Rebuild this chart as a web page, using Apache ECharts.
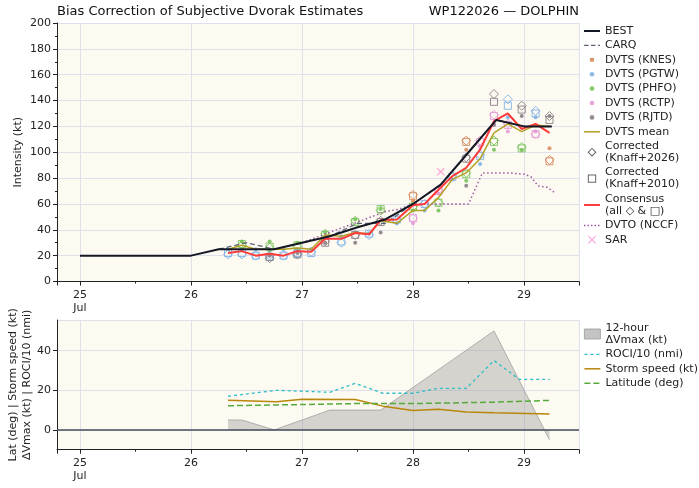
<!DOCTYPE html>
<html>
<head>
<meta charset="utf-8">
<script src="https://cdn.jsdelivr.net/npm/echarts@6/dist/echarts.min.js"></script>
<style>
  html, body { margin: 0; padding: 0; background: #fff; }
  #chart { width: 699px; height: 488px; }
</style>
</head>
<body>
<div id="chart"></div>
<script>
// all times are hours after 25 Jul 00 UTC
const bestHours = [0, 6, 12, 18, 24, 30, 36, 42, 48, 54, 60, 66, 72, 78, 84, 90, 96, 102];
const bestKt    = [20, 20, 20, 20, 20, 25, 25, 25, 30, 35, 42, 48, 60, 75, 100, 125, 120, 120];
const carqHours = [30, 36, 42, 48, 54, 60, 66, 72, 78, 84, 90, 96, 102];
const carqKt    = [25, 30, 25, 30, 35, 45, 45, 60, 75, 100, 125, 120, 120];

// DVTS fixes: raw, corrected (Knaff+2026), corrected (Knaff+2010)
const knesHours = [72, 83.5, 101.5];
const knesRaw   = [62, 102, 103];
const knesK26   = [67, 109, 94];
const knesK10   = [66, 108, 93];

const pgtwHours = [32, 35, 38, 41, 44, 47, 50, 56.5, 62.5, 68.5, 74.5, 80.5, 86.5, 92.5, 98.5];
const pgtwRaw   = [25, 25, 25, 24, 25, 25, 25, 35, 37, 45, 55, 79, 91, 127, 127];
const pgtwK26   = [21, 21, 20, 20, 20, 21, 23, 30, 36, 47, 60, 82, 98, 141, 132];
const pgtwK10   = [22, 22, 20, 19, 20, 22, 22, 31, 37, 48, 60, 81, 97, 136, 130];

const phfoHours = [35, 41, 47, 53, 59.5, 65, 72, 77.5, 83.5, 89.5, 95.5];
const phfoRaw   = [31, 31, 30, 38, 48, 56, 55, 55, 78, 102, 102];
const phfoK26   = [28, 26, 27, 37, 47, 55, 58, 61, 84, 109, 104];
const phfoK10   = [29, 27, 28, 36, 46, 56, 58, 61, 83, 108, 103];

const rctpHours = [72, 77.5, 86.5, 89.5, 92.5, 98.5];
const rctpRaw   = [45, 68, 104, 122, 116, 116];
const rctpK26   = [49, 71, 109, 129, 122, 114];
const rctpK10   = [49, 70, 108, 128, 121, 114];

const rjtdHours = [41, 47, 53, 59.5, 65, 83.5, 89.5, 95.5, 101.5];
const rjtdRaw   = [20, 22, 30, 30, 38, 74, 121, 128, 128];
const rjtdK26   = [18, 21, 31, 36, 47, 96, 145, 136, 128];
const rjtdK10   = [19, 21, 30, 36, 46, 95, 139, 133, 125];

const consHours = [32, 35, 38, 41, 44, 47, 50, 53, 56.5, 59.5, 62.5, 65, 68.5, 72, 74.5, 77.5, 80.5, 83.5, 86.5, 89.5, 92.5, 95.5, 98.5, 101.5];
const meanKt    = [25, 28, 25, 25, 25, 26, 25, 36, 35, 38, 37, 47, 45, 55, 55, 65, 79, 84, 95, 115, 122, 116, 121, 120];
const consKt    = [22, 23.5, 20, 21.5, 20, 23.5, 23, 33, 33, 37.5, 36.5, 47.5, 48, 59, 60, 71, 81.5, 88, 102, 124, 130, 118, 122, 115];

const dvtoHours = [48, 54, 60, 66, 69, 72, 78, 84, 87, 90, 93, 96, 97.5, 99, 101, 102.5];
const dvtoKt    = [30, 38, 46, 54, 56, 60, 60, 60, 84, 84, 84, 83, 81, 74, 73, 69];

const sarHours = [78];
const sarKt    = [85];

// lower panel
const dvHours   = [32, 35, 42, 54, 65, 89.5, 101.5];
const dvKt      = [5, 5, 0, 10, 10, 50, -5];
const rociHours = [32, 42.5, 54, 59.5, 65.5, 72, 77.5, 83.5, 89.5, 95, 101.5];
const roci10    = [17, 20, 19, 23.5, 18.5, 18.5, 21, 21, 35, 25.5, 25.5];
const spdHours  = [32, 42.5, 48, 59.5, 65.5, 72, 77.5, 83.5, 89.5, 101.5];
const spdKt     = [15, 14.2, 15.5, 15.4, 12, 9.8, 10.4, 9, 8.6, 8];
const latHours  = [32, 48, 59.5, 72, 89.5, 101.5];
const latDeg    = [12.2, 12.8, 13.3, 13.3, 14, 14.9];

const C_KNES = '#d68b5e', C_PGTW = '#7fb2e6', C_PHFO = '#79c35a', C_RCTP = '#e59ad8', C_RJTD = '#8a7f86';
const FONT = 'DejaVu Sans';

function day(h) { return 25 + h / 24; }
function pts(hours, vals) { return hours.map((h, i) => [day(h), vals[i]]); }

const agencies = [
  {c: C_KNES, h: knesHours, k26: knesK26, k10: knesK10},
  {c: C_PGTW, h: pgtwHours, k26: pgtwK26, k10: pgtwK10},
  {c: C_PHFO, h: phfoHours, k26: phfoK26, k10: phfoK10},
  {c: C_RCTP, h: rctpHours, k26: rctpK26, k10: rctpK10},
  {c: C_RJTD, h: rjtdHours, k26: rjtdK26, k10: rjtdK10}
];
function corrected(key) {
  const out = [];
  agencies.forEach(a => a.h.forEach((h, i) => {
    out.push({value: [day(h), a[key][i]], itemStyle: {borderColor: a.c}});
  }));
  return out;
}

// legend icons, all drawn in a 16x10 box
const BOX = 'path://M0,0M16,10';
function bar(x0, x1, w) { const a = 5 - w / 2, b = 5 + w / 2; return 'M' + x0 + ',' + a + 'L' + x1 + ',' + a + 'L' + x1 + ',' + b + 'L' + x0 + ',' + b + 'Z'; }
const lineIcon2  = BOX + bar(0, 16, 2);
const lineIcon15 = BOX + bar(0, 16, 1.5);
const carqIcon   = BOX + bar(0, 4.5, 1.3) + bar(7, 11.5, 1.3) + bar(14, 16, 1.3);
const dotLineIcon = BOX + bar(0, 1.5, 1.5) + bar(3.5, 5, 1.5) + bar(7, 8.5, 1.5) + bar(10.5, 12, 1.5) + bar(14, 15.5, 1.5);
const rociIcon   = BOX + bar(0, 3, 1.3) + bar(6, 9, 1.3) + bar(12, 15, 1.3);
const latIcon    = BOX + bar(0, 6, 1.5) + bar(9, 15, 1.5);
const dotIcon = BOX + 'M10.3,5A2.3,2.3,0,1,1,5.7,5A2.3,2.3,0,1,1,10.3,5Z';
const diamondIcon = BOX + 'M8,0.5L12.5,5L8,9.5L3.5,5ZM8,1.9L4.9,5L8,8.1L11.1,5Z';
const squareIcon = BOX + 'M3.8,0.8L12.2,0.8L12.2,9.2L3.8,9.2ZM4.8,1.8L4.8,8.2L11.2,8.2L11.2,1.8Z';
const xIcon = BOX + 'M4,1.8L4.8,1L8,4.2L11.2,1L12,1.8L8.8,5L12,8.2L11.2,9L8,5.8L4.8,9L4,8.2L7.2,5Z';
const xSymbol = 'path://M0,1L1,0L5,4L9,0L10,1L6,5L10,9L9,10L5,6L1,10L0,9L4,5Z';

function dvts(name, color, hours, vals) {
  return {
    name: name, type: 'scatter', xAxisIndex: 0, yAxisIndex: 0,
    symbolSize: 4, itemStyle: {color: color, opacity: 0.9},
    data: pts(hours, vals), z: 3
  };
}

const xAxisBase = {
  type: 'value', min: 24.793, max: 29.495, splitNumber: 5,
  axisLine: {onZero: false, lineStyle: {color: '#222', width: 1}},
  axisTick: {length: 4, lineStyle: {color: '#222'}},
  minorTick: {show: true, splitNumber: 2, length: 2, lineStyle: {color: '#222'}},
  splitLine: {lineStyle: {color: '#e0e0ec', width: 1}},
  axisLabel: {
    showMinLabel: false, showMaxLabel: false, margin: 7,
    fontFamily: FONT, fontSize: 11, color: '#222', lineHeight: 13,
    formatter: v => (Math.abs(v - 25) < 1e-6 ? '25\nJul' : String(Math.round(v)))
  }
};
const legendText = {fontFamily: FONT, fontSize: 11, color: '#222', lineHeight: 12};

const chart = echarts.init(document.getElementById('chart'));
chart.setOption({
  animation: false,
  backgroundColor: '#fff',
  textStyle: {fontFamily: FONT},
  title: [
    {text: 'Bias Correction of Subjective Dvorak Estimates', left: 57, top: 5, padding: 0,
     textStyle: {fontFamily: FONT, fontSize: 13, fontWeight: 'normal', color: '#111'}},
    {text: 'WP122026 — DOLPHIN', right: 120, top: 5, padding: 0,
     textStyle: {fontFamily: FONT, fontSize: 13, fontWeight: 'normal', color: '#111'}}
  ],
  legend: [
    {
      orient: 'vertical', left: 584, top: 25, padding: 0, itemGap: 2.4,
      itemWidth: 16, itemHeight: 10, textStyle: legendText,
      data: [
        {name: 'BEST', icon: lineIcon2},
        {name: 'CARQ', icon: carqIcon},
        {name: 'DVTS (KNES)', icon: dotIcon},
        {name: 'DVTS (PGTW)', icon: dotIcon},
        {name: 'DVTS (PHFO)', icon: dotIcon},
        {name: 'DVTS (RCTP)', icon: dotIcon},
        {name: 'DVTS (RJTD)', icon: dotIcon},
        {name: 'DVTS mean', icon: lineIcon15},
        {name: 'Corrected\n(Knaff+2026)', icon: diamondIcon, itemStyle: {color: '#555', borderWidth: 0}},
        {name: 'Corrected\n(Knaff+2010)', icon: squareIcon, itemStyle: {color: '#555', borderWidth: 0}},
        {name: 'Consensus\n(all ◇ & □)', icon: lineIcon2},
        {name: 'DVTO (NCCF)', icon: dotLineIcon},
        {name: 'SAR', icon: xIcon}
      ]
    },
    {
      orient: 'vertical', left: 584, top: 322, padding: 0, itemGap: 2.4,
      itemWidth: 16, itemHeight: 10, textStyle: legendText,
      data: [
        {name: '12-hour\nΔVmax (kt)', icon: 'rect', itemStyle: {color: '#c4c4c4', borderColor: '#999', borderWidth: 0.8}},
        {name: 'ROCI/10 (nmi)', icon: rociIcon},
        {name: 'Storm speed (kt)', icon: lineIcon15},
        {name: 'Latitude (deg)', icon: latIcon}
      ]
    }
  ],
  grid: [
    {left: 57, top: 23, width: 522, height: 258.5, show: true, backgroundColor: '#fdfaf2', borderWidth: 0, outerBoundsMode: 'none'},
    {left: 57, top: 320, width: 522, height: 129.7, show: true, backgroundColor: '#fdfaf2', borderWidth: 0, outerBoundsMode: 'none'}
  ],
  xAxis: [
    Object.assign({gridIndex: 0}, xAxisBase),
    Object.assign({gridIndex: 1}, xAxisBase)
  ],
  yAxis: [
    {
      gridIndex: 0, type: 'value', min: 0, max: 200, interval: 20,
      name: 'Intensity (kt)', nameLocation: 'middle', nameGap: 33, nameMoveOverlap: false,
      nameTextStyle: {fontFamily: FONT, fontSize: 11, color: '#222'},
      axisLine: {show: true, lineStyle: {color: '#222'}},
      axisTick: {show: true, length: 4, lineStyle: {color: '#222'}},
      minorTick: {show: true, splitNumber: 2, length: 2, lineStyle: {color: '#222'}},
      splitLine: {lineStyle: {color: '#e0e0ec', width: 1}},
      axisLabel: {fontFamily: FONT, fontSize: 11, color: '#222', margin: 6}
    },
    {
      gridIndex: 1, type: 'value', min: -10, max: 55.5, splitNumber: 3,
      name: 'Lat (deg) | Storm speed (kt)\nΔVmax (kt) | ROCI/10 (nmi)',
      nameLocation: 'middle', nameGap: 23, nameMoveOverlap: false,
      nameTextStyle: {fontFamily: FONT, fontSize: 11, color: '#222', lineHeight: 14},
      axisLine: {show: true, lineStyle: {color: '#222'}},
      axisTick: {show: true, length: 4, lineStyle: {color: '#222'}},
      splitLine: {lineStyle: {color: '#e0e0ec', width: 1}},
      axisLabel: {fontFamily: FONT, fontSize: 11, color: '#222', margin: 6,
                  showMinLabel: false, showMaxLabel: false}
    }
  ],
  series: [
    {name: 'BEST', type: 'line', xAxisIndex: 0, yAxisIndex: 0, symbol: 'none', z: 6,
     lineStyle: {color: '#141824', width: 2}, itemStyle: {color: '#141824'}, data: pts(bestHours, bestKt)},
    {name: 'CARQ', type: 'line', xAxisIndex: 0, yAxisIndex: 0, symbol: 'none', z: 4,
     lineStyle: {color: '#5c6577', width: 1.3, type: [5, 3]}, itemStyle: {color: '#5c6577'}, data: pts(carqHours, carqKt)},
    dvts('DVTS (KNES)', C_KNES, knesHours, knesRaw),
    dvts('DVTS (PGTW)', C_PGTW, pgtwHours, pgtwRaw),
    dvts('DVTS (PHFO)', C_PHFO, phfoHours, phfoRaw),
    dvts('DVTS (RCTP)', C_RCTP, rctpHours, rctpRaw),
    dvts('DVTS (RJTD)', C_RJTD, rjtdHours, rjtdRaw),
    {name: 'DVTS mean', type: 'line', xAxisIndex: 0, yAxisIndex: 0, symbol: 'none', z: 4,
     lineStyle: {color: '#b3a126', width: 1.5}, itemStyle: {color: '#b3a126'}, data: pts(consHours, meanKt)},
    {name: 'Corrected\n(Knaff+2026)', type: 'scatter', xAxisIndex: 0, yAxisIndex: 0, symbol: 'diamond',
     symbolSize: 9, z: 3, itemStyle: {color: 'rgba(0,0,0,0)', borderWidth: 1, opacity: 0.9},
     data: corrected('k26')},
    {name: 'Corrected\n(Knaff+2010)', type: 'scatter', xAxisIndex: 0, yAxisIndex: 0, symbol: 'rect',
     symbolSize: 7, z: 3, itemStyle: {color: 'rgba(0,0,0,0)', borderWidth: 1, opacity: 0.9},
     data: corrected('k10')},
    {name: 'Consensus\n(all ◇ & □)', type: 'line', xAxisIndex: 0, yAxisIndex: 0, symbol: 'none', z: 5,
     lineStyle: {color: '#ff3a3a', width: 2}, itemStyle: {color: '#ff3a3a'}, data: pts(consHours, consKt)},
    {name: 'DVTO (NCCF)', type: 'line', xAxisIndex: 0, yAxisIndex: 0, symbol: 'none', z: 4,
     lineStyle: {color: '#9a5a9c', width: 1.5, type: [1.5, 2.5]}, itemStyle: {color: '#9a5a9c'}, data: pts(dvtoHours, dvtoKt)},
    {name: 'SAR', type: 'scatter', xAxisIndex: 0, yAxisIndex: 0, symbol: xSymbol, symbolSize: 8, z: 4,
     itemStyle: {color: '#ff8ccb'}, data: pts(sarHours, sarKt)},

    {name: '12-hour\nΔVmax (kt)', type: 'line', xAxisIndex: 1, yAxisIndex: 1, symbol: 'none', z: 2,
     lineStyle: {color: '#a0a0a0', width: 0.8}, itemStyle: {color: '#c4c4c4'},
     areaStyle: {color: 'rgba(140,140,140,0.5)'},
     markLine: {silent: true, symbol: 'none', label: {show: false}, z: 5,
                lineStyle: {color: '#454b58', width: 1.5, type: 'solid'}, data: [{yAxis: 0}]},
     data: pts(dvHours, dvKt)},
    {name: 'ROCI/10 (nmi)', type: 'line', xAxisIndex: 1, yAxisIndex: 1, symbol: 'none', z: 4,
     lineStyle: {color: '#2bbcc8', width: 1.3, type: [3, 3]}, itemStyle: {color: '#2bbcc8'}, data: pts(rociHours, roci10)},
    {name: 'Storm speed (kt)', type: 'line', xAxisIndex: 1, yAxisIndex: 1, symbol: 'none', z: 4,
     lineStyle: {color: '#b8860b', width: 1.5}, itemStyle: {color: '#b8860b'}, data: pts(spdHours, spdKt)},
    {name: 'Latitude (deg)', type: 'line', xAxisIndex: 1, yAxisIndex: 1, symbol: 'none', z: 4,
     lineStyle: {color: '#55aa3a', width: 1.5, type: [6, 3]}, itemStyle: {color: '#55aa3a'}, data: pts(latHours, latDeg)}
  ]
});
</script>
</body>
</html>
